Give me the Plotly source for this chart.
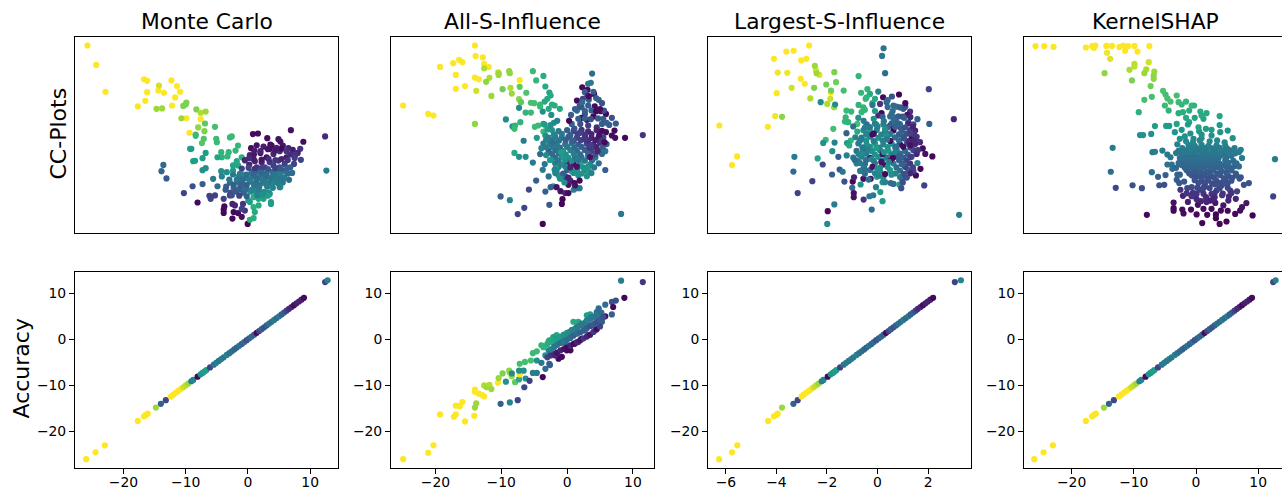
import plotly.graph_objects as go

# ---------- Monte Carlo, CC-plot ----------
x_mc = [-25.8,-24.4,-22.9,-16.7,-16.2,-12.3,-11.4,-10.9,-14.4,-13.5,-16.2,-11.7,-16.5,-17.7,-12.2,-9.9,-7.6,-9.4,
 -14.3,-14.7,-13.8,-10.4,-9.9,-10,-8.3,-7.6,-6.8,-10.7,-8,-6.9,-7,-5.3,-8.4,-8.4,-7.1,-7.4,-5.1,-5,-2.9,-2.6,
 -9.3,-9.1,-6.8,-7.3,-8.8,-8.5,-7.3,-6.8,-13.6,-13.9,-13.1,-8.9,-7.3,-10.3,-8.1,-6.2,-6,-5.3,-5.6,-4.9,
 -4.3,-4.2,-4.9,-3.1,-2,-1.6,-3.3,-1,-2.4,-1.6,-2.4,-.8,-4.3,-3.4,-4.2,-.5,-1.8,
 .8,1.6,3.1,6.9,4.9,5.2,8.9,12.4,12.6,3.8,3.5,7.2,8.4,8,8.5,
 .3,.96,2,3,4.1,5.1,6.2,6.8,.2,1.1,2.2,3.5,4.9,5.9,7.4,6.8,1.4,2.7,4.1,5.1,7.1,6.6,
 .6,1.8,2.8,3.9,4.8,6,-1.5,-.4,.7,1.6,2.8,3.7,5,5.8,-2.9,-1.7,-.9,.4,1.3,2.6,3.4,4.7,5.6,
 -3.5,-2.3,-1.2,-.3,1,1.8,3.1,4,5.2,-2.8,-1.9,-.7,.4,1.3,2.6,3.4,
 -3.9,-2.9,-3.8,-3.9,-3.9,-2.5,-2.1,-2.3,-1.6,-2.5,-1,-.05,-.8,-.5,-1,.9,1.7,2.5,3.7,3.7,1.7,.9,1.1,.9,.3,.05,.3,3.5,5.1,
 -.5,.9,2.2,3.3,4.4,5.4,6.4,-1,.1,1.1,2.2,3.2,4.4,5.3,6.3,-2.4,-1.3,-.2,1,2,3,4.1,5.2,
 -3,-1.8,-.8,.2,1.4,2.3,3.6,4.5,-2.3,-1.2,-.2,1,1.9,2.9,.6,1.7,-1.4,-.4,2.2,3.2,4.4,5.6,6.4,
 .5,1.4,2.5,3.6,4.6,5.6,6.5,7.6,1,2,3.2,4.4,5.4,6.2,7.5,-3.6,-2.6,-1.4,-.2,1.5,2.4,3.9,4.9,.2,2.2]
y_mc = [95.4,85.5,71.8,78.2,77.4,77.6,74.7,71.8,72.4,71.3,71.6,68.9,67.2,64.3,64.8,58.3,57.8,50.9,
 75,63.1,63.3,64.6,66.3,65.3,62.8,61.1,61.7,58.3,53.6,55.6,51.7,53.9,50,49.3,47.8,45.6,47.8,46.1,48.5,49,
 42.7,42.7,40.6,37.9,36.4,36.6,31.8,32.8,34.5,31.3,27.6,23.6,24.7,20.1,15.3,18.7,17.2,18.9,27.4,23.6,
 41,38.4,38.4,41,41.8,44.4,38.8,38.4,34.2,34.2,31.6,29.6,31.3,30.8,28.6,36.7,36.4,
 50.2,50.5,48.1,52.2,47.6,46.4,46.3,49,31.6,44.4,42.7,42.2,42.7,40.6,37.1,
 39.5,39.8,40.6,38.4,40.1,41.5,38.4,39.8,34.7,36.4,35.9,35.9,36.7,35,35,33.3,33.3,33.3,34.2,33.3,30.4,26.9,
 30.8,31.3,30.2,31,30.3,31.2,28.4,27.9,28.5,27.8,28.3,27.9,28.4,28,25.4,26,25.3,25.9,25.4,25.8,25.2,25.9,25.5,
 23.4,22.9,23.4,22.8,23.3,22.9,23.4,22.8,23.2,20.4,20.9,20.3,20.8,20.5,20.8,20.4,
 17.2,18.9,13.3,11.7,10,14.6,13.8,10.4,9.9,7.1,8,4.4,14.6,11.2,12.1,18,17.2,17.2,15.5,14.6,13.8,12.9,10.4,7.3,6.5,16.3,15.5,19.7,23.1,
 37,37.5,37.2,37.6,37,37.5,37,32.6,33,32.5,32.8,32.4,32.7,32.4,32.8,29.6,29.9,29.5,29.8,29.6,29.8,29.4,29.7,
 27,26.8,27.1,26.9,27,26.9,27,26.8,24.3,24.6,24.2,24.5,24.3,24.6,21.8,21.6,22,21.7,19,18.8,26,27,30,
 43,44.5,43.8,44.8,43.2,44.3,43,39.5,41.8,41.5,42.5,42,42.8,41.5,38,21.8,19,18.8,18.5,19,19.2,24.2,25,38,30.5]
c_mc = [1,1,1,1,1,1,1,1,1,1,1,1,1,1,1,1,1,1,
 .93,.85,.85,.8,.8,.8,.8,.88,.85,.85,.83,.75,.8,.7,.68,.68,.72,.73,.68,.68,.68,.68,
 .55,.55,.55,.55,.55,.55,.5,.5,.35,.33,.28,.25,.3,.2,.02,.2,.2,.2,.42,.35,
 .65,.65,.58,.66,.66,.66,.66,.62,.58,.58,.55,.58,.5,.5,.45,.62,.6,
 .02,.02,.03,.05,.05,.05,.03,.12,.42,.04,.04,.08,.15,.1,.2,
 .1,.06,.05,.03,.1,.12,.08,.12,.1,.1,.1,.15,.15,.2,.2,.3,.15,.2,.2,.25,.35,.35,
 .38,.35,.4,.38,.42,.38,.42,.45,.4,.35,.33,.4,.38,.42,.35,.33,.35,.42,.35,.38,.4,.4,.4,
 .3,.3,.3,.38,.42,.4,.42,.45,.48,.25,.28,.3,.5,.5,.48,.5,
 .2,.2,.02,.02,.02,.1,.1,.02,.03,.02,.04,.01,.15,.15,.2,.6,.58,.58,.55,.55,.6,.62,.6,.62,.62,.55,.55,.5,.45,
 .1,.08,.06,.12,.15,.1,.15,.2,.2,.15,.2,.25,.2,.28,.3,.4,.42,.35,.33,.38,.35,.4,.42,
 .38,.4,.35,.4,.35,.4,.38,.42,.3,.32,.3,.38,.4,.42,.45,.42,.3,.35,.55,.55,.42,.4,.35,
 .03,.05,.08,.04,.1,.06,.1,.15,.08,.1,.05,.06,.03,.15,.18,.28,.25,.2,.3,.45,.5,.45,.42,.12,.33]

# ---------- All-S-Influence, CC-plot ----------
x_as = [-14,-13.9,-12.8,-16.4,-15.9,-17.3,-19.3,-12.6,-11.9,-16.9,-14,-13.4,-16.9,-15.5,-7.2,-10.5,-24.9,-21.1,-20.3,
 -12.6,-10.4,-10.4,-8.8,-8.7,-11.8,-12.3,-13.8,-11.5,-9.8,-8.6,-8.4,-7.2,-6.2,-7.3,-7,-14,
 -5.2,-3.6,-4.7,-3.3,-2.7,-2.5,-5.5,-5,-4.1,-4.1,-3.4,-3,-2.3,-1.9,-2.8,-1.1,-7.3,-3.7,-6.3,-5.5,-2.4,-9.3,-7.1,-8.3,-7.9,-8,-4.9,-4.4,-3.6,-3.6,-4.6,-6.6,-3.3,
 -8,-7.3,-6.3,-5.2,-4.1,-3.4,-3.7,-2.8,-4.7,-5.8,-10.1,-8.7,-6.5,-7.5,-2.7,-3.7,8.2,11.5,8.8,
 3.8,3.6,3.2,2.3,3.1,2.7,4.1,2.4,1.5,3.3,4.8,5.3,4.2,3.2,2.2,5.1,5.9,1.5,2.7,4,5.5,6.8,7.4,6.4,2.2,3,.7,2,3.2,4.5,5.3,5.9,7.2,6.8,7.3,
 -2.3,-1.3,0,1,2.2,3.2,4.5,5.3,-2.8,-1.8,-.8,.2,1.5,2.7,3.7,4.8,5.5,
 -3.6,-2.6,-1.6,-.3,.7,1.7,3,4,5,6,-2.8,-1.8,-.6,.5,1.5,2.7,3.7,4.8,5.8,
 -1.8,-.8,.2,1.2,2.2,3.2,4.3,-1.8,-.8,0,1,2,3.5,4.8,-1.6,0,.7,1.5,2.7,3.3,-1.3,-.3,1.7,3,5.8,
 -2.1,-2.5,-1.6,-1,-3.3,-.3,.2,.5,1.1,1.9,1.9,1.5,1,-.3,.2,-.7,-.8,
 -2,-.8,.5,1.6,2.7,3.7,4.9,-3.2,-2.2,-1.2,-.2,1,2.1,3.2,4.3,5.2,-3.2,-2.2,-1.1,0,1.1,2.2,3.4,4.4,5.4,
 -2.3,-1.3,-.2,1,2,3.2,4.3,5.3,-1.3,-.3,.7,1.7,2.7,3.8,-1.3,-.3,.5,1.5,2.4,3.2,4.1,
 -1.8,-.6,1,2.2,3.7,1.7,2.7,3.6,4.7,2.7,3.7,4.4,5.6,
 -3.4,-3,-2.5,-2,-1.5,-3.9,-3.2,-2.4,-1.7,-.9,-2.6,-1.9,-1.1,-.4,-2.3,-1.5,-.9,.6,1.9,3.1,4.4,
 .3,1.2,2.3,3.3,4,5,6,5.7,1.1,1.9,2.8,3.6,4.6,.8,1.3,2.6,3.5,.2,1.2]
y_as = [95.4,90,89.3,88.1,86.9,86.4,84.5,86,84.4,80.4,79,78.2,73.3,74.7,77.7,81.8,64.8,60.5,59.7,
 83.8,81.3,80.4,82.3,81.3,78.9,76.9,72.3,69.7,73.1,73.8,70.9,74.3,71.3,68,66.5,55.4,
 82.3,79.9,77.6,74.5,71.4,69.9,66.2,66,65.3,64.3,66.8,68.2,65.3,64.8,63.1,63.1,63.6,61.7,61.2,61.2,60,57.7,56.3,54.1,54.6,52.9,53.9,54.6,55.4,51.5,48.3,46.8,49.5,
 40.6,38.6,38.6,35.7,40,34.9,32,28.6,26.5,21.9,18.4,16.5,12.6,9.4,14.1,4.4,9.5,49.7,48.3,
 81.1,76.4,75.9,74.1,72.8,71.6,70.7,68.2,67.3,67.7,67.7,66,64.3,64.8,63.9,61.9,60.5,62.2,60.5,59.2,58,58.5,55.6,54.9,58.5,57.5,55.4,55.4,54.6,53.7,55.4,51.2,52,49.5,48.3,
 52.3,51.7,52.2,51.8,52.4,51.6,52.2,51.9,48.4,48.9,48.3,48.8,48.4,48.9,48.3,48.7,48.5,
 45.4,45,45.6,45,45.5,44.9,45.3,45,45.6,45.1,41.6,42.1,41.5,42,41.7,42.1,41.6,42,41.5,
 38.2,38.7,38.1,38.6,38.2,38.7,38.3,35.2,34.8,35.3,34.7,35.2,34.8,35.3,31.4,31.9,31.3,31.8,31.5,31.2,29.2,28.8,29.1,28.7,31.9,
 23.6,23.1,23.1,21.1,20.9,26.5,24.3,26.5,25.2,26.5,22.6,22.6,21.8,20.1,20.1,17,14.6,
 50,50.3,49.8,50.2,49.9,50.2,49.8,47,47.3,46.9,47.2,46.8,47.1,46.9,47.2,46.8,43.5,43.8,43.3,43.7,43.4,43.7,43.3,43.6,43.4,
 40,40.3,39.8,40.2,39.9,40.2,39.8,40.1,36.7,37,36.6,36.9,36.6,36.8,33.4,33.7,33.2,33.6,33.3,33.6,33.2,
 30.3,30,30.4,30.1,30.3,58,58.3,57.8,58.2,62,62.3,61.8,62.2,
 55,52.6,54.8,56,57,43,39.5,37,33,27.5,37,32,27.5,25.5,46,44,41,60,64.5,70,68.6,
 57,63,66.5,69.5,71.8,63,56,46,53,50.8,47.5,44.5,41.5,47,37.5,33,38.5,28,24]
c_as = [1,1,1,1,1,1,1,1,1,1,1,1,1,1,1,1,1,1,1,
 .88,.85,.85,.83,.83,.88,.83,.93,.85,.78,.88,.85,.75,.72,.82,.75,.83,
 .68,.62,.66,.6,.58,.6,.7,.7,.68,.68,.6,.6,.62,.62,.6,.6,.48,.5,.65,.68,.5,.48,.65,.5,.65,.68,.68,.68,.55,.68,.55,.42,.5,
 .6,.5,.5,.42,.35,.4,.42,.38,.3,.22,.3,.45,.22,.2,.28,.01,.4,.15,.02,
 .35,.42,.4,.02,.03,.3,.02,.2,.03,.3,.3,.25,.03,.3,.3,.02,.02,.35,.25,.02,.3,.25,.3,.3,.03,.03,.3,.25,.2,.15,.3,.03,.02,.03,.03,
 .5,.42,.3,.2,.15,.12,.1,.03,.45,.4,.35,.25,.2,.2,.1,.05,.2,
 .4,.45,.35,.4,.4,.3,.2,.1,.15,.3,.3,.35,.5,.45,.35,.3,.2,.25,.4,
 .35,.55,.5,.4,.35,.35,.4,.4,.5,.1,.05,.6,.5,.35,.45,.3,.55,.5,.45,.55,.5,.25,.5,.5,.3,
 .55,.3,.05,.05,.3,.1,.05,.1,.02,.02,.4,.4,.45,.1,.03,.01,.01,
 .45,.4,.3,.2,.15,.1,.05,.45,.42,.38,.3,.25,.2,.12,.08,.15,.42,.4,.35,.4,.35,.3,.15,.1,.3,
 .35,.4,.5,.42,.35,.3,.25,.35,.4,.5,.5,.4,.4,.35,.42,.45,.1,.05,.55,.5,.4,
 .45,.3,.5,.5,.45,.3,.3,.25,.28,.3,.3,.02,.25,
 .55,.55,.5,.48,.45,.45,.48,.5,.55,.45,.55,.45,.5,.5,.35,.4,.55,.3,.25,.2,.3,
 .02,.3,.35,.02,.3,.03,.3,.02,.25,.2,.15,.2,.1,.3,.4,.5,.05,.1,.05]

# ---------- Largest-S-Influence, CC-plot ----------
x_ls = [-2.71,-3.32,-3.61,-4.1,-3.02,-2.82,-3.95,-3.57,-3.04,-2.88,-3.99,-4.05,-4.34,-6.26,-5.56,-5.76,-2.44,-2.3,-1.85,
 -2.48,-2.41,-1.71,-2.03,-1.64,-3.4,-2.51,-1.84,-1.34,-2.66,-1.87,-1.99,-1.72,-3.78,-.75,
 .24,.18,.3,.85,2.03,3.02,3.23,
 -.65,-.4,-.3,.03,-.47,-.43,-.1,-.2,-.75,-.56,-.5,-.63,-1.23,-1.04,-1.26,-1.29,-1.16,-.76,-.8,-.96,-2.25,-1.68,-1.75,-.8,-1.23,-.88,-1.06,-2.05,-2.15,-1.7,-1.21,-1.12,-1.79,-2.37,-3.29,-3.33,-2.17,-1.55,-1.22,-3.16,-2.58,-1.8,-1.5,-1.38,-1.31,-1.71,-1.97,-1.99,
 -.23,.2,-.55,-.32,-.17,.11,-.06,-1,-.94,-.94,-.67,-.98,-.93,-.56,-.27,.2,.3,.52,.63,.86,.94,.98,1.85,1.52,1.7,2.17,1.89,1.79,1.68,1.58,1.58,2.05,1.58,1.49,
 .57,.22,.1,.36,.63,1.02,1.29,1.18,.16,.03,.56,.83,1.22,.89,.5,
 -.43,-.1,.23,.56,.89,1.22,1.42,-.56,-.3,-.03,.3,.63,.96,1.29,-.63,-.3,.03,.36,.69,1.02,1.35,1.55,
 -.76,-.43,-.1,.23,.56,.89,1.16,1.49,-.83,-.56,-.23,.1,.43,.76,1.09,1.42,
 -.96,-.63,-.3,.03,.36,.69,1.02,1.35,-.83,-.5,-.1,.23,.63,.96,1.29,-.69,-.3,.1,.5,.89,1.22,1.42,-.03,.23,.89,1.16,
 -.3,0,.4,.7,1.1,1.4,-.45,-.15,.15,.5,.85,1.15,1.45,-.7,-.45,-.15,.2,.5,.85,1.2,1.45,
 -.6,-.3,.05,.4,.7,1.02,1.3,-.75,-.45,-.1,.2,.55,.9,1.2,1.55,-.8,-.45,-.15,.2,.5,.85,1.15,
 -.55,-.2,.1,.4,.75,1.1,1.4,-.5,-.1,.3,.7,1.05,1.3,.2,.5,.75,1,1.3,.4,.75,.9,1.1,
 -.55,-.15,.25,.65,1.05,1.3,-.5,-.05,.35,.8,1.25,-.65,-.2,.3,.7,1.05,-.6,-.05,.38,.85,1.3,-.7,-.25,.25,.6,1.1,
 -.5,0,.45,1,-.35,.05,.55,1,1.6,-.9,-.4,.15,.75,1.3,-.2,.6,1.1,-.1,.4]
y_ls = [95.4,92.7,92.3,88.6,87.8,88.6,81.6,81.5,78.4,75.9,71.1,59.4,53.9,54.6,38.8,34.4,82.7,80.4,71.3,
 85,81.3,81.8,75.5,76.7,73.8,73.8,72.4,72.4,68.4,68.2,65.6,63.9,59,79.8,
 94,90.1,81.3,70.4,73.1,57.8,9,
 71.3,73.1,70.7,71.9,68.2,69,68.2,66,65.1,63.9,62.6,61.4,62.2,61.7,58.8,56.6,56.3,58.5,55.4,54.1,66.5,65.3,52.9,51.5,50.7,48.6,46.9,47.3,45.7,45.9,45.6,44.4,41.5,37.8,38.6,31.1,34.7,38.6,39.3,20.1,26.2,29.6,32.1,31,26,14.3,10.9,4.4,
 11.7,16,16.8,18.5,19,20.6,23.1,22.8,20.1,18,24.5,26,28.2,27.4,27.4,25.7,25.7,25.2,24.8,24.5,22.6,26.9,24,29.1,32.5,38.8,40.1,42.9,46.1,46.4,35.4,55.4,57.8,52,
 69.4,69,65.6,66.5,64.8,63.1,61.7,60,60.9,59.7,60.5,59.2,56.3,53.7,54.6,
 55.2,55.6,55.1,55.7,55.3,55.6,55.2,52.2,51.8,52.3,51.7,52.1,51.9,52.2,48.4,48.9,48.3,48.8,48.5,48.9,48.4,48.8,
 45.4,45,45.5,44.9,45.3,45,45.4,45.1,41.6,42.1,41.5,42,41.7,42.1,41.6,42,
 38.2,38.7,38.1,38.6,38.3,38.7,38.2,38.6,35.2,34.8,35.3,34.7,35.2,34.8,35.2,31.4,31.9,31.3,31.8,31.5,31.8,31.4,28.4,28,28.3,28,
 53.8,54,53.6,53.9,53.7,54,50.2,50.4,50,50.3,50.1,50.4,50,46.8,47,46.6,46.9,46.7,47,46.6,46.9,
 43.5,43.7,43.3,43.6,43.4,43.7,43.4,40,40.2,39.8,40.1,39.9,40.2,39.8,40.1,36.7,36.9,36.5,36.8,36.6,36.9,36.6,
 33.3,33.5,33.1,33.4,33.2,33.5,33.2,30,30.2,29.8,30.1,29.9,30.2,59,59.2,58.8,59.1,58.9,64,64.2,63.8,64.1,
 57,58,56.8,57.5,58.5,50.5,53.5,55,49.5,55.8,46.3,47.5,50,52.8,41,48,40.5,43,47.5,39,44.5,35.5,37.5,41,38,33.5,
 32,32.5,36,35,27,29,29.5,25.5,42,37,42.5,36,44,38.5,65,62,66,62,67.5]
c_ls = [1,1,1,1,1,1,.98,.98,1,1,1,.98,1,1,1,1,.96,.96,1,
 .85,.85,.8,.78,.78,.93,.8,.78,.7,.88,.92,.88,.85,.82,.66,
 .38,.4,.35,.01,.2,.1,.42,
 .66,.66,.6,.45,.66,.66,.6,.6,.65,.66,.66,.66,.68,.66,.66,.66,.65,.5,.7,.35,.48,.48,.7,.6,.3,.45,.65,.68,.5,.45,.55,.6,.5,.58,.42,.35,.22,.3,.45,.2,.2,.3,.28,.4,.25,.42,.02,.48,
 .35,.55,.15,.4,.4,.55,.45,.35,.05,.05,.5,.02,.1,.05,.05,.5,.45,.35,.35,.55,.25,.25,.2,.02,.02,.02,.05,.03,.1,.15,.45,.3,.3,.1,
 .25,.02,.15,.3,.35,.3,.15,.05,.02,.1,.35,.3,.3,.25,.1,
 .35,.4,.45,.3,.35,.1,.25,.5,.55,.45,.4,.02,.3,.2,.42,.45,.5,.45,.35,.3,.02,.15,
 .42,.5,.55,.45,.5,.03,.3,.1,.38,.02,.5,.42,.55,.45,.35,.2,
 .4,.45,.02,.5,.4,.1,.3,.25,.42,.35,.45,.03,.45,.3,.15,.42,.35,.5,.55,.35,.3,.2,.6,.5,.4,.25,
 .4,.42,.35,.3,.25,.1,.45,.02,.45,.4,.3,.25,.15,.45,.5,.42,.45,.03,.35,.2,.1,
 .42,.5,.45,.5,.4,.03,.25,.45,.42,.5,.02,.45,.35,.3,.1,.42,.35,.4,.45,.03,.3,.2,
 .4,.05,.45,.5,.35,.25,.2,.35,.45,.02,.45,.25,.1,.3,.35,.3,.25,.1,.35,.35,.3,.25,
 .4,.5,.4,.35,.3,.2,.42,.45,.5,.3,.1,.42,.03,.5,.45,.25,.48,.55,.4,.3,.05,.42,.45,.5,.02,.2,
 .38,.5,.45,.3,.35,.45,.5,.25,.15,.35,.45,.05,.35,.2,.4,.35,.02,.55,.35]

# ---------- KernelSHAP, CC-plot ----------
x_ks = [-25.8,-24.4,-22.9,-17.7,-16.7,-16.2,-16.4,-14.4,-13.5,-12.3,-11.7,-10.9,-9.9,-7.5,-11.4,-9.4,-14.3,-13.8,
 -7.6,-9.9,-9.9,-10.7,-8,-8.3,-6.7,-6.8,-6.8,-14.7,-10.3,-7.3,
 -5.3,-4.9,-4.6,-4.1,-5,-4.4,-8.3,-7.1,-9.2,-3.1,-2.8,-2.3,-1.6,-.7,-.3,-2.8,-2.1,-1.1,.7,1.7,3.8,-1.6,-1.1,-.2,1.2,.9,-3.1,-1.3,-6.6,-4.8,-4.3,3.8,-2.3,-3.4,.5,1.6,2.5,5.1,3.9,-7.2,-9,-8.5,-2.6,-1.8,-.4,.9,5.9,.4,
 -13.4,-13.7,-12.9,-10.2,-8.7,-7.9,-7.1,-6.1,-4.9,-5.9,-5.1,-7,-6.6,-5.4,-4.6,-4.1,-4.6,-3.9,-3.8,-3,-3.1,-2.7,12.7,12.4,8.5,7.7,7.2,6.9,7.2,6.9,
 -3.6,-3.6,-3.6,-2.2,-2,-.8,.1,1,1.8,3.2,3.2,3.8,4.9,4,5.1,6.3,7.1,7.4,8.1,9.1,1.2,2.5,.3,-1.3,-2.1,-.7,-2.5,1.7,2.3,3.1,1.7,4.4,5.2,6.4,.1,.6,2.5,3.3,5.5,-.7,1.4,3.1,4.1,
 -1.2,-.2,.9,2,3.3,4.7,-2.8,-1.5,-.4,.6,1.7,3.1,4.4,5.5,-2.3,-1.2,-.2,.9,2,3.1,4.1,5.7,
 -2,-1,.1,1.2,2.3,3.3,4.7,6,-2.3,-1.2,-.2,.9,2,3.1,4.4,6.3,-1.5,-.4,.6,1.7,2.8,4.1,5.7,
 -.7,.4,1.4,2.5,3.9,5.2,6.5,-.2,.9,2,3.3,4.7,5.7,
 -2.2,-.8,.3,1.4,2.6,3.8,5,6.2,-3.2,-2,-1,.1,1.2,2.5,3.7,4.9,6.3,-2.6,-1.6,-.6,.4,1.5,2.6,3.6,4.9,
 -2.8,-1.5,-.6,.5,1.6,2.7,3.8,5.2,6.5,-1.8,-.8,.2,1.3,2.4,3.6,5,5.8,-1.1,0,1.1,2.2,3.4,4.9,6.4,
 -.2,.9,1.9,3,4.5,5.8,7,.4,1.5,2.6,4,5.1,-1.4,.2,1.1,2.2,3.8,5.1,-1.5,-.5,1.2,3,4.3,5.7,
 -1.6,-.5,.6,2.2,3.4,4.6,-3,-.9,.9,2.5,-3.2,-2.6,7.4,-.7,.8,1.6,3,4.2,5.3,6.6,-1.9,.1,1.3,2.8,4.6]
y_ks = [95.1,95.1,94.7,94.4,95.1,95.4,94.2,95.2,95.2,94.6,95.4,95.1,95.2,95.1,92.7,92.3,91.7,88.6,
 86.9,86,84.7,83,83.3,81.3,82.1,80.1,78.4,81.3,77.6,74.7,
 72.3,70.4,68.4,66.8,64.8,62.2,67.7,69.2,61.4,69.9,66.5,65.3,66.8,64.8,64.8,60.9,61.4,62.2,61.7,60.9,59.4,58.5,56.3,58.5,58,59.7,55.4,55.1,54.3,54.4,54.4,54.8,52.4,51.2,51.7,52.9,52.4,52,51.2,50.3,49.7,49.7,47.8,49,47.8,48.1,48.1,53.7,
 43.2,31,22.8,24.1,22.6,9,30.8,28.4,29.3,24.1,24.3,41,41.2,41.8,39.8,38.4,34.7,34.7,32.5,29.6,26.9,25.2,37.4,18.4,25.2,24.3,28.2,33.7,42.2,41,
 15.3,12.4,11.1,11.7,9.7,11.7,9.2,4.8,9,9.2,7.3,4.4,5.6,11.2,11.1,9.5,11.2,12.9,15,8.7,12.1,12.1,14.1,15.6,18.7,18.5,21.8,17.2,16.3,15.1,15.5,13.8,16.3,17.2,19.7,21.8,19.7,21.4,21.4,23.1,24,24.5,24,
 44.6,44.2,44.7,44.2,44.5,44.3,41.6,42,41.5,42.1,41.7,42,41.6,41.9,39.5,39,39.4,39.1,39.5,39,39.4,39.1,
 36.9,36.5,36.8,36.4,36.9,36.5,36.8,36.5,34.4,34,34.3,33.9,34.4,34,34.3,34,31.8,31.4,31.7,31.3,31.8,31.4,31.7,
 29.2,28.8,29.1,28.8,29.2,28.8,29.1,26.7,26.3,26.6,26.3,26.7,26.4,
 43,43.2,42.8,43.1,42.9,43.2,42.8,43.1,40.5,40.7,40.3,40.6,40.4,40.7,40.3,40.6,40.4,38,38.2,37.8,38.1,37.9,38.2,37.8,38.1,
 35.4,35.6,35.2,35.5,35.3,35.6,35.2,35.5,35.3,33,33.2,32.8,33.1,32.9,33.2,32.8,33.1,30.2,30.4,30,30.3,30.1,30.4,30,
 27.7,27.9,27.5,27.8,27.6,27.9,27.5,25.2,25.4,25,25.3,25.1,22.6,22.8,22.4,22.7,22.5,22.8,20,20.2,19.8,20.1,19.9,20.2,
 46.5,46,47,46.5,47,46,45,50.5,50,49.5,33,29.5,38,19,16,18,18,19,18.5,21,26,17,23,17,25]
c_ks = [1,1,1,1,1,1,1,1,1,1,1,1,1,1,1,1,.98,.95,
 .93,.9,.9,.87,.87,.85,.85,.83,.83,.83,.8,.78,
 .72,.7,.7,.7,.68,.65,.7,.7,.63,.7,.68,.66,.66,.66,.65,.62,.62,.62,.62,.6,.58,.6,.58,.58,.58,.6,.58,.55,.55,.55,.55,.55,.52,.52,.55,.55,.55,.52,.52,.5,.5,.5,.5,.5,.48,.5,.5,.58,
 .42,.35,.22,.25,.25,.02,.35,.3,.3,.25,.25,.42,.42,.42,.4,.4,.38,.38,.36,.33,.3,.28,.42,.2,.25,.25,.3,.35,.45,.42,
 .05,.02,.02,.03,.03,.03,.02,.01,.02,.01,.01,.01,.01,.02,.02,.02,.03,.05,.06,.01,.03,.03,.05,.08,.1,.1,.15,.1,.08,.06,.1,.06,.1,.1,.15,.18,.15,.2,.15,.25,.22,.25,.22,
 .44,.44,.44,.44,.44,.44,.41,.41,.41,.41,.41,.41,.41,.41,.385,.385,.385,.385,.385,.385,.385,.385,
 .355,.355,.355,.355,.355,.355,.355,.355,.33,.33,.33,.33,.33,.33,.33,.33,.3,.3,.3,.3,.3,.3,.3,
 .27,.27,.27,.27,.27,.27,.27,.245,.245,.245,.245,.245,.245,
 .42,.42,.42,.42,.42,.42,.42,.42,.4,.4,.4,.4,.4,.4,.4,.4,.4,.37,.37,.37,.37,.37,.37,.37,.37,
 .34,.34,.34,.34,.34,.34,.34,.34,.34,.32,.32,.32,.32,.32,.32,.32,.32,.28,.28,.28,.28,.28,.28,.28,
 .26,.26,.26,.26,.26,.26,.26,.24,.24,.24,.24,.24,.22,.22,.22,.22,.22,.22,.15,.15,.15,.15,.15,.15,
 .47,.46,.47,.47,.47,.46,.45,.5,.5,.5,.33,.3,.4,.15,.1,.12,.12,.15,.13,.2,.28,.12,.22,.1,.25]

# ---------- Accuracy row ----------
acc_line = [-26,-24.5,-23,-17.7,-16.7,-16.4,-16.1,-14.8,-14,-13.2,
 -12.4,-12,-11.6,-11.2,-10.8,-10.4,-10,-9.6,-9.1,-8.8,
 -8.1,-7.6,-7.3,-7,-6.7,-6.1,-5.5,-5.1,-4.7,-4.3,
 -3.9,-3.4,-3,-2.6,-2.2,-1.8,-1.4,-1,-.6,-.2,
 .2,.6,1,1.4,1.8,2.2,2.6,3,3.4,3.8,
 4.2,4.6,5,5.4,5.8,6.2,6.6,7,7.4,7.8,8.2,8.6,9,12.4,12.8]
c_line = [1,1,1,1,1,1,1,.85,.3,.22,
 1,1,1,1,1,.92,.9,.85,.42,.45,
 .02,.52,.52,.55,.55,.2,.38,.42,.4,.42,
 .4,.45,.38,.35,.33,.3,.38,.33,.35,.25,
 .3,.35,.3,.02,.22,.3,.25,.3,.38,.35,
 .42,.35,.4,.3,.3,.2,.12,.1,.03,.08,.1,.08,.02,.2,.45]
est_mc = [-26,-24.5,-23,-17.7,-16.7,-16.4,-16.1,-14.8,-14,-13.2,
 -12.4,-12,-11.6,-11.2,-10.8,-10.4,-10,-9.6,-9.1,-8.8,
 -8.1,-7.6,-7.3,-7,-6.7,-6.1,-5.5,-5.1,-4.7,-4.3,
 -3.9,-3.4,-3,-2.6,-2.2,-1.8,-1.4,-1,-.6,-.2,
 .2,.6,1,1.4,1.8,2.2,2.6,3,3.4,3.8,
 4.2,4.6,5,5.4,5.8,6.2,6.6,7,7.4,7.8,8.2,8.6,9,12.4,12.8]
est_ls = [-6.27,-5.76,-5.55,-4.33,-4.1,-4,-3.95,-3.78,-3.33,-3.16,
 -3.01,-2.92,-2.82,-2.72,-2.62,-2.53,-2.43,-2.33,-2.21,-2.14,
 -1.97,-1.85,-1.77,-1.7,-1.63,-1.48,-1.34,-1.24,-1.14,-1.04,
 -.95,-.83,-.73,-.63,-.53,-.44,-.34,-.24,-.15,-.05,
 .05,.15,.24,.34,.44,.53,.63,.73,.83,.92,
 1.02,1.12,1.22,1.31,1.41,1.51,1.6,1.7,1.8,1.9,1.99,2.09,2.2,3.06,3.3]
est_ks = [-26,-24.5,-23,-17.7,-16.7,-16.4,-16.1,-14.8,-14,-13.2,
 -12.4,-12,-11.6,-11.2,-10.8,-10.4,-10,-9.6,-9.1,-8.8,
 -8.1,-7.6,-7.3,-7,-6.7,-6.1,-5.5,-5.1,-4.7,-4.3,
 -3.9,-3.4,-3,-2.6,-2.2,-1.8,-1.4,-1,-.6,-.2,
 .2,.6,1,1.4,1.8,2.2,2.6,3,3.4,3.8,
 4.2,4.6,5,5.4,5.8,6.2,6.6,7,7.4,7.8,8.2,8.6,9,12.4,12.8]

acc_x_as = [-24.9,-21.1,-20.3,-19.3,-17.2,-16.9,-16.9,-16.3,-15.9,-15.5,-14.1,-14,-13.8,-14,-14,-13.4,-12.9,-12.6,-12.6,-12.2,-11.8,-11.5,-10.5,-10.4,-9.8,-8.8,-8.7,-8.4,-7.9,-7.3,-7.2,
 -9.3,-8.4,-7.3,-6.6,-6.3,-5.7,-6.5,-5.2,-4.6,-3.7,-10.1,-8.7,-7.5,
 -7.2,-6.4,-5.5,-5.2,-4.6,-3.6,-2.8,-1.6,-4.6,-3.9,-3.3,-2.6,-2.7,-3.3,-2.8,-1.8,-1.3,-.8,-1.8,-.05,.5,1.2,2.2,.96,1.7,3,3.5,
 -.8,0,.7,1.5,2.2,3,3.7,4.5,4.8,5.8,6.8,7.4,8.7,7,6.8,5.8,5.3,4.3,3.2,1.7,.5,-.3,8.2,11.5,-1.3,-2.1,-2.6,-3.9,2.7,3.7,4.8,2.5,1.5,.5,-.3,
 -3.5,-3,-2.4,-2,-1.5,-1,-.5,0,.4,.8,1.2,1.6,2,2.4,2.8,3.2,3.6,4,4.4,4.8,5.2,
 -3,-2.5,-2,-1.5,-1,-.5,0,.5,1,1.5,2,2.5,3,3.5,4,4.5,5,
 -2.5,-2,-1.5,-1,-.5,0,.5,1,1.5,2,2.5,3,3.5,4,4.5,5,5.5]
acc_y_as = [-26,-24.6,-23,-16.3,-16.8,-16.3,-14.4,-14.5,-13.6,-17.8,-16.6,-14.8,-13.9,-10.9,-11.4,-11.8,-12.1,-12.4,-10,-10.4,-9.9,-10.8,-9.4,-8.4,-7.4,-6.8,-7.2,-8,-9.3,-8.7,-7.6,
 -9.2,-7.4,-6.8,-6.8,-8.5,-9,-10.4,-7.3,-7.3,-8.2,-14,-13.7,-13.2,
 -5.3,-4.9,-4.6,-3,-2.6,-1.7,-.4,.9,-4.6,-5.1,-6.4,-5.6,-5.3,-3.5,-2.4,-1.3,-4.2,-3.8,-3.5,-2.4,-2.4,-.9,.1,3.8,3.8,5.2,5.4,
 .5,1.2,2,2.7,3.4,4.1,4.8,5.9,6.7,7.5,8.1,8.4,9,7,5.4,5,3.8,2,.9,-.6,-1.3,-.9,12.7,12.4,-.2,.5,-.2,-1.3,2,3,4.1,3,1.6,.5,.1,
 -1.6,-1,-.6,-.2,.3,.6,1,1.4,1.6,2,2.3,2.6,3,3.3,3.7,4.2,4.5,4.7,5.2,5.4,5.8,
 -3.9,-3.5,-3.1,-2.9,-2.4,-2.1,-1.8,-1.4,-1,-.6,-.2,.2,.6,1,1.6,2.2,2.8,
 -2.2,-1.7,-1.2,-.8,-.4,-.1,.3,.8,1.2,1.5,1.9,2.4,2.9,3.3,3.6,4.2,4.8]
acc_c_as = [1,1,1,1,1,1,1,1,1,1,1,.85,.85,1,1,1,1,1,.88,.85,.88,.85,1,.85,.8,.83,.83,.85,.75,.6,1,
 .5,.48,.5,.5,.48,.2,.22,.42,.42,.01,.3,.45,.2,
 .7,.7,.7,.68,.68,.65,.62,.6,.5,.4,.35,.3,.3,.5,.45,.35,.02,.02,.1,.02,.02,.05,.03,.6,.6,.55,.55,
 .4,.5,.45,.4,.45,.4,.4,.35,.35,.35,.25,.25,.01,.02,.3,.03,.3,.3,.2,.2,.3,.35,.42,.15,.45,.55,.6,.65,.25,.3,.25,.35,.3,.3,.4,
 .65,.62,.6,.58,.55,.55,.5,.5,.48,.45,.45,.42,.42,.4,.42,.45,.4,.4,.38,.4,.35,
 .2,.15,.1,.05,.1,.05,.02,.1,.03,.1,.05,.15,.1,.05,.15,.03,.2,
 .45,.4,.4,.35,.4,.35,.35,.3,.35,.3,.3,.3,.25,.3,.25,.3,.25]

PANELS = [(x_mc, y_mc, c_mc), (x_as, y_as, c_as), (x_ls, y_ls, c_ls), (x_ks, y_ks, c_ks)]
BOTTOM = [(est_mc, acc_line, c_line), (acc_x_as, acc_y_as, acc_c_as), (est_ls, acc_line, c_line), (est_ks, acc_line, c_line)]
for group in PANELS + BOTTOM:
    assert len(group[0]) == len(group[1]) == len(group[2]), [len(g) for g in group]

titles = ["Monte Carlo", "All-S-Influence", "Largest-S-Influence", "KernelSHAP"]
row_titles = ["CC-Plots", "Accuracy"]
x_ranges = [[-27.8, 14.47], [-26.75, 13.2], [-6.71, 3.7], [-27.65, 14.63]]
tick_vals = [[-20, -10, 0, 10], [-20, -10, 0, 10], [-6, -4, -2, 0, 2], [-20, -10, 0, 10]]
left_px = [75, 391, 708, 1024]
W, H = 1300, 488
P_W, T_TOP, T_BOT, B_TOP, B_BOT = 263, 36.5, 232.5, 271.5, 467.5

fig = go.Figure()
layout = dict(width=W, height=H + 4, margin=dict(l=0, r=0, t=0, b=4), autosize=False,
              paper_bgcolor="white", plot_bgcolor="white", showlegend=False,
              font=dict(family="DejaVu Sans", color="black"), annotations=[])

def add(points, idx):
    fig.add_trace(go.Scatter(x=points[0], y=points[1], mode="markers", xaxis=f"x{idx}", yaxis=f"y{idx}",
                             marker=dict(size=6.2, color=points[2], colorscale="Viridis", cmin=0, cmax=1, line=dict(width=0)),
                             hoverinfo="skip"))

for i in range(4):
    top, bot = i + 1, i + 5
    add(PANELS[i], top)
    add(BOTTOM[i], bot)
    dom = [left_px[i] / W, (left_px[i] + P_W) / W]
    base = dict(domain=dom, range=x_ranges[i], showgrid=False, zeroline=False, showline=True, linecolor="black",
                linewidth=1, mirror=True)
    layout[f"xaxis{top}"] = dict(base, anchor=f"y{top}", showticklabels=False, ticks="")
    layout[f"xaxis{bot}"] = dict(base, anchor=f"y{bot}", tickmode="array", tickvals=tick_vals[i], ticks="outside", ticklen=5, tickwidth=1,
                                 ticklabelstandoff=-3, tickcolor="black", tickfont=dict(size=13.9, family="DejaVu Sans", color="black"))
    ybase = dict(showgrid=False, zeroline=False, showline=True, linecolor="black", linewidth=1, mirror=True)
    layout[f"yaxis{top}"] = dict(ybase, anchor=f"x{top}", domain=[1 - T_BOT / H, 1 - T_TOP / H], range=[0, 100],
                                 showticklabels=False, ticks="")
    layout[f"yaxis{bot}"] = dict(ybase, anchor=f"x{bot}", domain=[1 - B_BOT / H, 1 - B_TOP / H], range=[-27.8, 14.7],
                                 tickmode="array", tickvals=[-20, -10, 0, 10], ticks="outside", ticklen=5, tickwidth=1,
                                 tickcolor="black", tickfont=dict(size=13.9, family="DejaVu Sans", color="black"))
    layout["annotations"].append(dict(text=titles[i], xref="paper", yref="paper",
                                      x=(left_px[i] + P_W / 2) / W, y=1 - 21 / H, xanchor="center", yanchor="middle",
                                      showarrow=False, font=dict(size=21.8, family="DejaVu Sans", color="black")))

layout["annotations"].append(dict(text=row_titles[0], xref="paper", yref="paper", x=57.5 / W, y=1 - 134 / H, textangle=-90,
                                  xanchor="center", yanchor="middle", showarrow=False,
                                  font=dict(size=22, family="DejaVu Sans", color="black")))
layout["annotations"].append(dict(text=row_titles[1], xref="paper", yref="paper", x=20.5 / W, y=1 - 369 / H, textangle=-90,
                                  xanchor="center", yanchor="middle", showarrow=False,
                                  font=dict(size=22, family="DejaVu Sans", color="black")))
fig.update_layout(**layout)
fig.write_html("out.html", config={"displayModeBar": False},
               post_script="document.body.style.margin='0';document.body.style.overflow='hidden';")
